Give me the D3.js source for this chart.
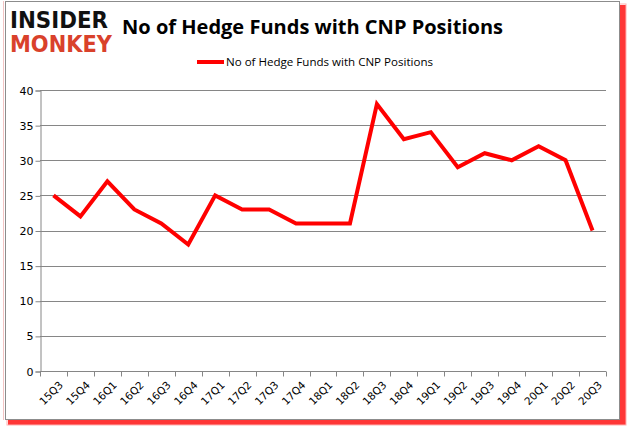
<!DOCTYPE html>
<html>
<head>
<meta charset="utf-8">
<script src="https://cdn.jsdelivr.net/npm/d3@7"></script>
<style>
  body { margin: 0; background: #fff; }
  svg { display: block; }
</style>
</head>
<body>
<svg id="chart" width="627" height="431"></svg>
<script>
// quarters and hedge fund counts
const quarters = ["15Q3", "15Q4", "16Q1", "16Q2", "16Q3", "16Q4", "17Q1", "17Q2", "17Q3", "17Q4",
  "18Q1", "18Q2", "18Q3", "18Q4", "19Q1", "19Q2", "19Q3", "19Q4", "20Q1", "20Q2", "20Q3"];
const funds = [25, 22, 27, 23, 21, 18, 25, 23, 23, 21, 21, 21, 38, 33, 34, 29, 31, 30, 32, 30, 20];
const yTicks = [0, 5, 10, 15, 20, 25, 30, 35, 40];
const seriesName = "No of Hedge Funds with CNP Positions";

const svg = d3.select("#chart");
const plot = { left: 40, right: 606, top: 90, bottom: 371 };

// frame with red drop shadow
svg.append("rect").attr("x", 8).attr("y", 5).attr("width", 618).attr("height", 420)
  .attr("fill", "#ff2020").attr("opacity", 0.9);
svg.append("rect").attr("x", 7).attr("y", 4).attr("width", 619).attr("height", 421)
  .attr("fill", "none").attr("stroke", "#ffb0b0").attr("stroke-width", 1);
svg.append("line").attr("x1", 3.5).attr("x2", 3.5).attr("y1", 1).attr("y2", 420)
  .attr("stroke", "#f4c4c4");
svg.append("rect").attr("x", 5.5).attr("y", 1.5).attr("width", 614).attr("height", 418)
  .attr("fill", "#fff").attr("stroke", "#8c8c8c").attr("stroke-width", 1);

const x = d3.scaleBand().domain(quarters).range([plot.left, plot.right]);
const y = d3.scaleLinear().domain([0, 40]).range([plot.bottom, plot.top]);

// gridlines
svg.append("g")
  .selectAll("line")
  .data(yTicks.slice(1))
  .join("line")
  .attr("x1", plot.left).attr("x2", plot.right)
  .attr("y1", d => Math.round(y(d)) + 0.5).attr("y2", d => Math.round(y(d)) + 0.5)
  .attr("stroke", "#868686");

// y axis
const yAxis = svg.append("g")
  .attr("transform", `translate(${plot.left + 0.5},0.5)`)
  .call(d3.axisLeft(y).tickValues(yTicks).tickSize(5).tickPadding(2));
yAxis.select(".domain").attr("stroke", "#868686");
yAxis.selectAll(".tick line").attr("stroke", "#868686");
yAxis.selectAll("text").attr("font-family", "DejaVu Sans, Verdana, sans-serif")
  .attr("font-size", 11).attr("fill", "#000");

// x axis, ticks between categories
const xAxis = svg.append("g")
  .attr("transform", `translate(0,${plot.bottom + 0.5})`);
xAxis.append("line").attr("x1", plot.left).attr("x2", plot.right)
  .attr("stroke", "#868686");
xAxis.selectAll("line.tk")
  .data(quarters.concat(["end"]))
  .join("line")
  .attr("class", "tk")
  .attr("x1", (d, i) => Math.round(plot.left + i * x.step()) + 0.5)
  .attr("x2", (d, i) => Math.round(plot.left + i * x.step()) + 0.5)
  .attr("y1", 0).attr("y2", 5)
  .attr("stroke", "#868686");
xAxis.selectAll("text")
  .data(quarters)
  .join("text")
  .attr("transform", d => `translate(${x(d) + x.bandwidth() / 2 + 5},${9}) rotate(-45)`)
  .attr("text-anchor", "end")
  .attr("dy", "0.7em")
  .attr("font-family", "DejaVu Sans, Verdana, sans-serif")
  .attr("font-size", 10.5)
  .attr("fill", "#000")
  .text(d => d);

// series line
const line = d3.line()
  .x((d, i) => x(quarters[i]) + x.bandwidth() / 2)
  .y(d => y(d));
svg.append("path")
  .datum(funds)
  .attr("fill", "none")
  .attr("stroke", "#ff0000")
  .attr("stroke-width", 4)
  .attr("stroke-linejoin", "miter")
  .attr("d", line);

// title
svg.append("text")
  .attr("x", 122).attr("y", 34)
  .attr("font-family", "Open Sans, sans-serif")
  .attr("font-weight", "bold")
  .attr("font-size", 20)
  .attr("textLength", 381)
  .attr("lengthAdjust", "spacingAndGlyphs")
  .attr("fill", "#000")
  .text(seriesName);

// legend
svg.append("line").attr("x1", 197).attr("x2", 224).attr("y1", 62).attr("y2", 62)
  .attr("stroke", "#ff0000").attr("stroke-width", 4);
svg.append("text")
  .attr("x", 226).attr("y", 66)
  .attr("font-family", "Open Sans, sans-serif")
  .attr("font-size", 11)
  .attr("textLength", 207)
  .attr("lengthAdjust", "spacingAndGlyphs")
  .attr("fill", "#000")
  .text(seriesName);

// logo
svg.append("text")
  .attr("x", 10).attr("y", 28)
  .attr("font-family", "DejaVu Sans, sans-serif")
  .attr("font-weight", "bold")
  .attr("font-size", 23)
  .attr("textLength", 98)
  .attr("lengthAdjust", "spacingAndGlyphs")
  .attr("fill", "#111")
  .text("INSIDER");
svg.append("text")
  .attr("x", 10).attr("y", 52)
  .attr("font-family", "DejaVu Sans, sans-serif")
  .attr("font-weight", "bold")
  .attr("font-size", 23)
  .attr("textLength", 102)
  .attr("lengthAdjust", "spacingAndGlyphs")
  .attr("fill", "#d9412b")
  .text("MONKEY");
</script>
</body>
</html>
